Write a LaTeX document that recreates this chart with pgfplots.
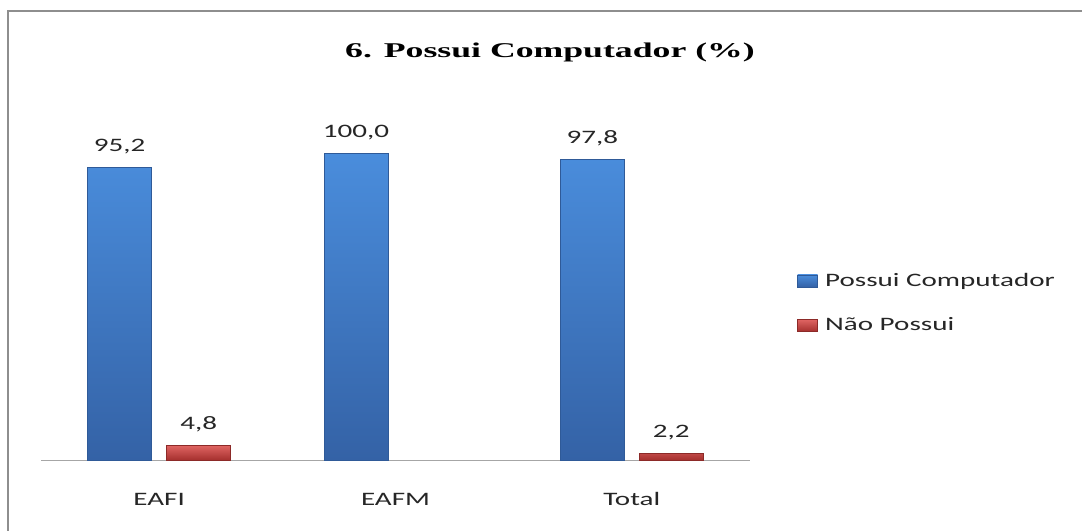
\documentclass[border=0pt]{standalone}
\usepackage{pgfplots}
\pgfplotsset{compat=1.18}
\usepackage{fontspec}
\setmainfont{Carlito}[FakeStretch=1.53]
\newfontfamily\titlefont{Liberation Serif}[FakeStretch=1.7]

\definecolor{barblue}{HTML}{3F7CC8}
\definecolor{barbluetop}{HTML}{4A8DDC}
\definecolor{barbluebot}{HTML}{3462A6}
\definecolor{barblueedge}{HTML}{2F5A98}
\definecolor{barred}{HTML}{C0504D}
\definecolor{barredtop}{HTML}{E06563}
\definecolor{barredbot}{HTML}{A5302E}
\definecolor{barrededge}{HTML}{8C2A28}
\definecolor{framegray}{HTML}{8E8E8E}
\definecolor{txt}{HTML}{262626}

\newcommand{\lblfont}{\fontsize{14.25}{17}\selectfont}

\begin{document}
\begin{tikzpicture}
% picture frame, in pixel units with y downwards
\begin{scope}[x=0.75pt, y=-0.75pt]
  \path[use as bounding box] (0,0) rectangle (1082,531);
  \draw[framegray, line width=1.5pt] (8,531) -- (8,11) -- (1082,11);
  \node[anchor=base, inner sep=0pt] at (550,58)
    {\titlefont\bfseries\fontsize{15.75}{19}\selectfont 6. Possui Computador (\%)};
\end{scope}

\begin{axis}[
  at={(30.75pt,-345pt)}, anchor=south west,
  scale only axis,
  width=531.75pt, height=230.25pt,
  xmin=-0.5, xmax=2.5,
  ymin=0, ymax=100,
  clip=false,
  ybar=11.25pt,
  bar width=48pt,
  axis y line=none,
  axis x line*=bottom,
  x axis line style={draw=gray!70, line width=0.75pt, -},
  xtick={0,1,2},
  xticklabels={EAFI, EAFM, Total},
  xtick style={draw=none},
  xticklabel style={font=\lblfont, text=txt, anchor=base, yshift=-30pt},
  nodes near coords,
  nodes near coords style={font=\lblfont, text=txt, anchor=base, yshift=12pt},
  /pgf/number format/.cd, fixed, fixed zerofill, precision=1, use comma, assume math mode=true,
  /pgfplots/.cd,
  legend style={
    at={(1.0663,0.511)}, anchor=west,
    draw=none, fill=none, inner sep=0pt,
    font=\lblfont, text=txt,
    row sep=18pt, column sep=3.5pt,
  },
  legend cell align=left,
]
\addplot[draw=barblueedge, top color=barbluetop, bottom color=barbluebot,
  legend image code/.code={\shade[top color=barbluetop, bottom color=barbluebot, draw=barblueedge] (0pt,-4.5pt) rectangle (15pt,4.5pt);}]
  coordinates {(0,95.2) (1,100.0) (2,97.8)};
\addplot[draw=barrededge, top color=barredtop, bottom color=barredbot,
  legend image code/.code={\shade[top color=barredtop, bottom color=barredbot, draw=barrededge] (0pt,-4.5pt) rectangle (15pt,4.5pt);}]
  coordinates {(0,4.8) (2,2.2)};
\legend{Possui Computador, Não Possui}
\end{axis}
\end{tikzpicture}
\end{document}
